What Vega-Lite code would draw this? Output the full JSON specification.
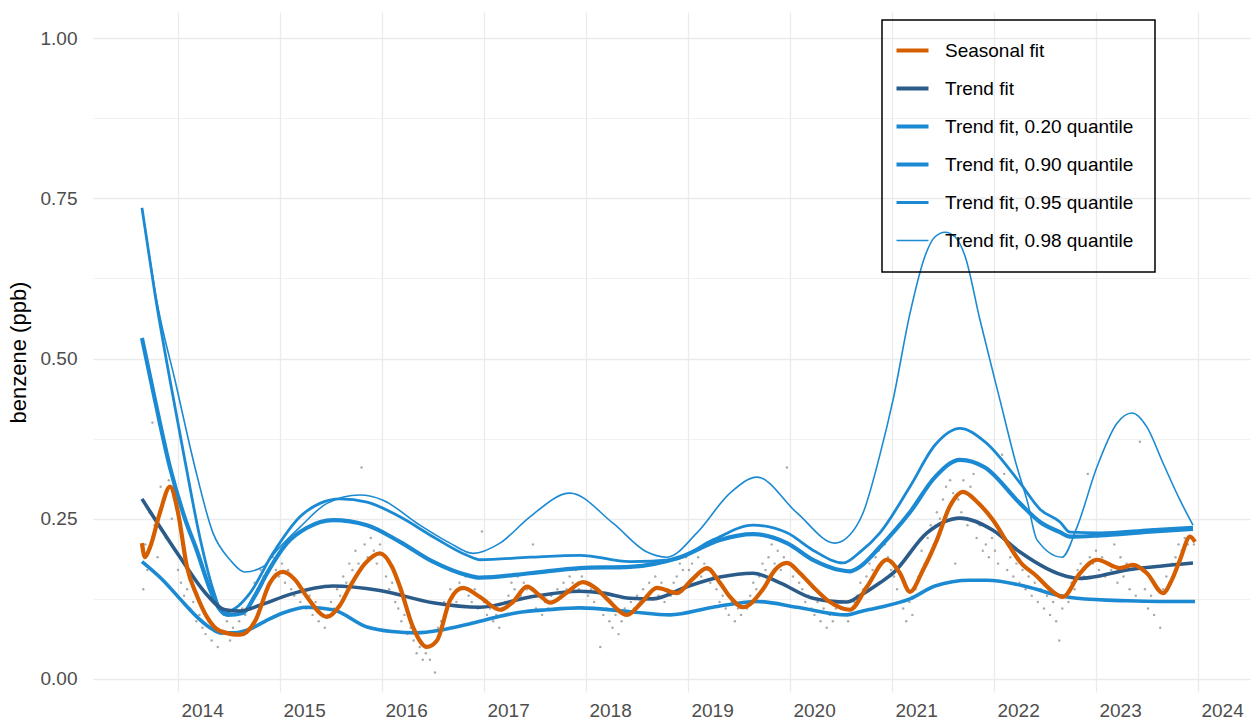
{
"$schema": "https://vega.github.io/schema/vega-lite/v6.json",
"width": 1157, "height": 680,
"autosize": {"type": "none"},
"padding": {"left": 93, "top": 12, "right": 7, "bottom": 35},
"background": "white",
"config": {"view": {"stroke": null}, "font": "Liberation Sans"},
"datasets": {
"pts": [
{"t":2013.66,"v":0.14},{"t":2013.68,"v":0.21},{"t":2013.70,"v":0.17},{"t":2013.72,"v":0.26},{"t":2013.75,"v":0.40},{"t":2013.77,"v":0.24},{"t":2013.80,"v":0.19},{"t":2013.83,"v":0.30},{"t":2013.85,"v":0.27},{"t":2013.88,"v":0.22},{"t":2013.91,"v":0.31},{"t":2013.94,"v":0.25},{"t":2013.97,"v":0.20},
{"t":2014.00,"v":0.17},{"t":2014.03,"v":0.15},{"t":2014.06,"v":0.13},{"t":2014.09,"v":0.14},{"t":2014.12,"v":0.11},{"t":2014.15,"v":0.12},{"t":2014.18,"v":0.09},{"t":2014.21,"v":0.10},{"t":2014.24,"v":0.08},{"t":2014.27,"v":0.07},{"t":2014.30,"v":0.09},{"t":2014.33,"v":0.06},{"t":2014.36,"v":0.08},{"t":2014.39,"v":0.05},{"t":2014.42,"v":0.07},{"t":2014.45,"v":0.10},{"t":2014.48,"v":0.09},{"t":2014.51,"v":0.06},{"t":2014.54,"v":0.08},{"t":2014.57,"v":0.07},{"t":2014.60,"v":0.09},{"t":2014.63,"v":0.11},{"t":2014.66,"v":0.10},{"t":2014.69,"v":0.13},{"t":2014.72,"v":0.12},{"t":2014.75,"v":0.15},{"t":2014.78,"v":0.14},{"t":2014.81,"v":0.17},{"t":2014.84,"v":0.16},{"t":2014.87,"v":0.18},{"t":2014.90,"v":0.15},{"t":2014.93,"v":0.19},{"t":2014.96,"v":0.17},{"t":2014.99,"v":0.16},
{"t":2015.02,"v":0.18},{"t":2015.05,"v":0.15},{"t":2015.08,"v":0.17},{"t":2015.11,"v":0.14},{"t":2015.14,"v":0.13},{"t":2015.17,"v":0.15},{"t":2015.20,"v":0.12},{"t":2015.23,"v":0.14},{"t":2015.26,"v":0.11},{"t":2015.29,"v":0.13},{"t":2015.32,"v":0.10},{"t":2015.35,"v":0.12},{"t":2015.38,"v":0.09},{"t":2015.41,"v":0.11},{"t":2015.44,"v":0.08},{"t":2015.47,"v":0.10},{"t":2015.50,"v":0.12},{"t":2015.53,"v":0.11},{"t":2015.56,"v":0.14},{"t":2015.59,"v":0.13},{"t":2015.62,"v":0.16},{"t":2015.65,"v":0.15},{"t":2015.68,"v":0.18},{"t":2015.71,"v":0.17},{"t":2015.74,"v":0.20},{"t":2015.77,"v":0.18},{"t":2015.80,"v":0.33},{"t":2015.83,"v":0.21},{"t":2015.86,"v":0.19},{"t":2015.89,"v":0.22},{"t":2015.92,"v":0.20},{"t":2015.95,"v":0.18},{"t":2015.98,"v":0.21},
{"t":2016.01,"v":0.23},{"t":2016.04,"v":0.16},{"t":2016.07,"v":0.14},{"t":2016.10,"v":0.15},{"t":2016.13,"v":0.12},{"t":2016.16,"v":0.11},{"t":2016.19,"v":0.09},{"t":2016.22,"v":0.10},{"t":2016.25,"v":0.07},{"t":2016.28,"v":0.08},{"t":2016.31,"v":0.06},{"t":2016.34,"v":0.04},{"t":2016.37,"v":0.05},{"t":2016.40,"v":0.03},{"t":2016.43,"v":0.04},{"t":2016.47,"v":0.03},{"t":2016.52,"v":0.01},{"t":2016.55,"v":0.08},{"t":2016.58,"v":0.09},{"t":2016.61,"v":0.12},{"t":2016.64,"v":0.11},{"t":2016.67,"v":0.14},{"t":2016.70,"v":0.13},{"t":2016.73,"v":0.12},{"t":2016.76,"v":0.15},{"t":2016.79,"v":0.14},{"t":2016.82,"v":0.16},{"t":2016.85,"v":0.13},{"t":2016.88,"v":0.12},{"t":2016.91,"v":0.14},{"t":2016.94,"v":0.11},{"t":2016.98,"v":0.23},
{"t":2017.00,"v":0.12},{"t":2017.03,"v":0.10},{"t":2017.06,"v":0.11},{"t":2017.09,"v":0.09},{"t":2017.12,"v":0.10},{"t":2017.15,"v":0.08},{"t":2017.18,"v":0.11},{"t":2017.21,"v":0.12},{"t":2017.24,"v":0.13},{"t":2017.27,"v":0.15},{"t":2017.30,"v":0.14},{"t":2017.33,"v":0.16},{"t":2017.36,"v":0.13},{"t":2017.39,"v":0.15},{"t":2017.42,"v":0.14},{"t":2017.48,"v":0.21},{"t":2017.51,"v":0.11},{"t":2017.54,"v":0.13},{"t":2017.57,"v":0.10},{"t":2017.60,"v":0.12},{"t":2017.63,"v":0.11},{"t":2017.66,"v":0.13},{"t":2017.69,"v":0.12},{"t":2017.72,"v":0.14},{"t":2017.75,"v":0.13},{"t":2017.78,"v":0.15},{"t":2017.81,"v":0.14},{"t":2017.84,"v":0.16},{"t":2017.87,"v":0.15},{"t":2017.90,"v":0.17},{"t":2017.93,"v":0.14},{"t":2017.96,"v":0.16},{"t":2017.99,"v":0.15},
{"t":2018.02,"v":0.13},{"t":2018.05,"v":0.14},{"t":2018.08,"v":0.12},{"t":2018.11,"v":0.11},{"t":2018.14,"v":0.05},{"t":2018.17,"v":0.10},{"t":2018.20,"v":0.11},{"t":2018.23,"v":0.09},{"t":2018.26,"v":0.08},{"t":2018.29,"v":0.10},{"t":2018.32,"v":0.07},{"t":2018.35,"v":0.09},{"t":2018.38,"v":0.11},{"t":2018.41,"v":0.10},{"t":2018.44,"v":0.12},{"t":2018.47,"v":0.11},{"t":2018.50,"v":0.13},{"t":2018.53,"v":0.12},{"t":2018.56,"v":0.14},{"t":2018.59,"v":0.13},{"t":2018.62,"v":0.15},{"t":2018.65,"v":0.14},{"t":2018.68,"v":0.16},{"t":2018.71,"v":0.13},{"t":2018.74,"v":0.15},{"t":2018.77,"v":0.12},{"t":2018.80,"v":0.14},{"t":2018.83,"v":0.13},{"t":2018.86,"v":0.15},{"t":2018.89,"v":0.16},{"t":2018.92,"v":0.18},{"t":2018.95,"v":0.17},{"t":2018.98,"v":0.19},
{"t":2019.01,"v":0.17},{"t":2019.04,"v":0.18},{"t":2019.07,"v":0.20},{"t":2019.10,"v":0.19},{"t":2019.13,"v":0.16},{"t":2019.16,"v":0.18},{"t":2019.19,"v":0.17},{"t":2019.22,"v":0.15},{"t":2019.25,"v":0.16},{"t":2019.28,"v":0.14},{"t":2019.31,"v":0.12},{"t":2019.34,"v":0.13},{"t":2019.37,"v":0.11},{"t":2019.40,"v":0.10},{"t":2019.43,"v":0.12},{"t":2019.46,"v":0.09},{"t":2019.49,"v":0.11},{"t":2019.52,"v":0.10},{"t":2019.55,"v":0.12},{"t":2019.58,"v":0.11},{"t":2019.61,"v":0.13},{"t":2019.64,"v":0.15},{"t":2019.67,"v":0.14},{"t":2019.70,"v":0.16},{"t":2019.73,"v":0.18},{"t":2019.76,"v":0.17},{"t":2019.79,"v":0.19},{"t":2019.82,"v":0.21},{"t":2019.85,"v":0.18},{"t":2019.88,"v":0.20},{"t":2019.91,"v":0.17},{"t":2019.94,"v":0.19},{"t":2019.97,"v":0.33},
{"t":2020.00,"v":0.18},{"t":2020.03,"v":0.16},{"t":2020.06,"v":0.17},{"t":2020.09,"v":0.15},{"t":2020.12,"v":0.14},{"t":2020.15,"v":0.12},{"t":2020.18,"v":0.13},{"t":2020.21,"v":0.11},{"t":2020.24,"v":0.10},{"t":2020.27,"v":0.12},{"t":2020.30,"v":0.09},{"t":2020.33,"v":0.11},{"t":2020.36,"v":0.08},{"t":2020.39,"v":0.10},{"t":2020.42,"v":0.09},{"t":2020.45,"v":0.11},{"t":2020.48,"v":0.10},{"t":2020.51,"v":0.12},{"t":2020.54,"v":0.11},{"t":2020.57,"v":0.09},{"t":2020.60,"v":0.10},{"t":2020.63,"v":0.12},{"t":2020.66,"v":0.13},{"t":2020.69,"v":0.15},{"t":2020.72,"v":0.14},{"t":2020.75,"v":0.16},{"t":2020.78,"v":0.18},{"t":2020.81,"v":0.17},{"t":2020.84,"v":0.19},{"t":2020.87,"v":0.20},{"t":2020.90,"v":0.18},{"t":2020.93,"v":0.21},{"t":2020.96,"v":0.19},{"t":2020.99,"v":0.17},
{"t":2021.02,"v":0.16},{"t":2021.05,"v":0.14},{"t":2021.08,"v":0.12},{"t":2021.11,"v":0.11},{"t":2021.14,"v":0.09},{"t":2021.17,"v":0.12},{"t":2021.20,"v":0.10},{"t":2021.23,"v":0.14},{"t":2021.26,"v":0.16},{"t":2021.29,"v":0.20},{"t":2021.32,"v":0.18},{"t":2021.35,"v":0.22},{"t":2021.38,"v":0.24},{"t":2021.41,"v":0.21},{"t":2021.44,"v":0.26},{"t":2021.47,"v":0.25},{"t":2021.50,"v":0.28},{"t":2021.53,"v":0.30},{"t":2021.57,"v":0.31},{"t":2021.60,"v":0.29},{"t":2021.62,"v":0.18},{"t":2021.65,"v":0.28},{"t":2021.68,"v":0.26},{"t":2021.70,"v":0.31},{"t":2021.74,"v":0.24},{"t":2021.77,"v":0.30},{"t":2021.80,"v":0.32},{"t":2021.83,"v":0.22},{"t":2021.86,"v":0.24},{"t":2021.89,"v":0.20},{"t":2021.92,"v":0.21},{"t":2021.95,"v":0.19},{"t":2021.98,"v":0.22},
{"t":2022.01,"v":0.20},{"t":2022.04,"v":0.18},{"t":2022.08,"v":0.35},{"t":2022.10,"v":0.32},{"t":2022.13,"v":0.17},{"t":2022.16,"v":0.19},{"t":2022.19,"v":0.16},{"t":2022.22,"v":0.18},{"t":2022.25,"v":0.15},{"t":2022.28,"v":0.17},{"t":2022.31,"v":0.14},{"t":2022.34,"v":0.16},{"t":2022.37,"v":0.13},{"t":2022.40,"v":0.15},{"t":2022.43,"v":0.12},{"t":2022.46,"v":0.14},{"t":2022.49,"v":0.11},{"t":2022.52,"v":0.13},{"t":2022.55,"v":0.10},{"t":2022.58,"v":0.12},{"t":2022.61,"v":0.09},{"t":2022.64,"v":0.06},{"t":2022.67,"v":0.11},{"t":2022.70,"v":0.13},{"t":2022.73,"v":0.12},{"t":2022.76,"v":0.15},{"t":2022.79,"v":0.14},{"t":2022.82,"v":0.17},{"t":2022.85,"v":0.18},{"t":2022.88,"v":0.16},{"t":2022.92,"v":0.32},{"t":2022.94,"v":0.19},{"t":2022.97,"v":0.18},
{"t":2023.00,"v":0.20},{"t":2023.03,"v":0.17},{"t":2023.06,"v":0.19},{"t":2023.09,"v":0.16},{"t":2023.12,"v":0.18},{"t":2023.15,"v":0.17},{"t":2023.18,"v":0.21},{"t":2023.21,"v":0.15},{"t":2023.24,"v":0.19},{"t":2023.27,"v":0.16},{"t":2023.30,"v":0.18},{"t":2023.33,"v":0.14},{"t":2023.36,"v":0.17},{"t":2023.39,"v":0.13},{"t":2023.43,"v":0.37},{"t":2023.45,"v":0.12},{"t":2023.48,"v":0.14},{"t":2023.51,"v":0.11},{"t":2023.54,"v":0.13},{"t":2023.57,"v":0.10},{"t":2023.60,"v":0.12},{"t":2023.63,"v":0.08},{"t":2023.66,"v":0.14},{"t":2023.69,"v":0.16},{"t":2023.72,"v":0.15},{"t":2023.75,"v":0.18},{"t":2023.78,"v":0.19},{"t":2023.81,"v":0.21},{"t":2023.84,"v":0.20},{"t":2023.87,"v":0.22},{"t":2023.90,"v":0.21},{"t":2023.93,"v":0.22},{"t":2023.96,"v":0.21}
],
"fits": [
{"s":"Seasonal fit","t":2013.647,"v":0.212},{"s":"Seasonal fit","t":2013.676,"v":0.190},{"s":"Seasonal fit","t":2013.725,"v":0.205},{"s":"Seasonal fit","t":2013.824,"v":0.26},{"s":"Seasonal fit","t":2013.922,"v":0.300},{"s":"Seasonal fit","t":2014.0,"v":0.26},{"s":"Seasonal fit","t":2014.088,"v":0.175},{"s":"Seasonal fit","t":2014.186,"v":0.13},{"s":"Seasonal fit","t":2014.284,"v":0.097},{"s":"Seasonal fit","t":2014.412,"v":0.075},{"s":"Seasonal fit","t":2014.608,"v":0.069},{"s":"Seasonal fit","t":2014.755,"v":0.09},{"s":"Seasonal fit","t":2014.902,"v":0.150},{"s":"Seasonal fit","t":2015.029,"v":0.167},{"s":"Seasonal fit","t":2015.147,"v":0.155},{"s":"Seasonal fit","t":2015.265,"v":0.128},{"s":"Seasonal fit","t":2015.461,"v":0.097},{"s":"Seasonal fit","t":2015.588,"v":0.115},{"s":"Seasonal fit","t":2015.686,"v":0.144},{"s":"Seasonal fit","t":2015.833,"v":0.18},{"s":"Seasonal fit","t":2015.980,"v":0.196},{"s":"Seasonal fit","t":2016.098,"v":0.175},{"s":"Seasonal fit","t":2016.176,"v":0.144},{"s":"Seasonal fit","t":2016.304,"v":0.081},{"s":"Seasonal fit","t":2016.441,"v":0.050},{"s":"Seasonal fit","t":2016.539,"v":0.060},{"s":"Seasonal fit","t":2016.667,"v":0.123},{"s":"Seasonal fit","t":2016.794,"v":0.142},{"s":"Seasonal fit","t":2016.961,"v":0.128},{"s":"Seasonal fit","t":2017.157,"v":0.108},{"s":"Seasonal fit","t":2017.284,"v":0.12},{"s":"Seasonal fit","t":2017.422,"v":0.144},{"s":"Seasonal fit","t":2017.549,"v":0.13},{"s":"Seasonal fit","t":2017.647,"v":0.119},{"s":"Seasonal fit","t":2017.814,"v":0.135},{"s":"Seasonal fit","t":2017.971,"v":0.151},{"s":"Seasonal fit","t":2018.108,"v":0.14},{"s":"Seasonal fit","t":2018.206,"v":0.125},{"s":"Seasonal fit","t":2018.402,"v":0.100},{"s":"Seasonal fit","t":2018.549,"v":0.12},{"s":"Seasonal fit","t":2018.696,"v":0.142},{"s":"Seasonal fit","t":2018.892,"v":0.134},{"s":"Seasonal fit","t":2019.039,"v":0.155},{"s":"Seasonal fit","t":2019.186,"v":0.173},{"s":"Seasonal fit","t":2019.314,"v":0.15},{"s":"Seasonal fit","t":2019.412,"v":0.128},{"s":"Seasonal fit","t":2019.539,"v":0.112},{"s":"Seasonal fit","t":2019.735,"v":0.14},{"s":"Seasonal fit","t":2019.853,"v":0.17},{"s":"Seasonal fit","t":2019.971,"v":0.181},{"s":"Seasonal fit","t":2020.098,"v":0.165},{"s":"Seasonal fit","t":2020.225,"v":0.144},{"s":"Seasonal fit","t":2020.392,"v":0.12},{"s":"Seasonal fit","t":2020.588,"v":0.108},{"s":"Seasonal fit","t":2020.755,"v":0.144},{"s":"Seasonal fit","t":2020.951,"v":0.186},{"s":"Seasonal fit","t":2021.078,"v":0.165},{"s":"Seasonal fit","t":2021.176,"v":0.136},{"s":"Seasonal fit","t":2021.304,"v":0.17},{"s":"Seasonal fit","t":2021.441,"v":0.217},{"s":"Seasonal fit","t":2021.569,"v":0.27},{"s":"Seasonal fit","t":2021.696,"v":0.292},{"s":"Seasonal fit","t":2021.843,"v":0.275},{"s":"Seasonal fit","t":2021.990,"v":0.248},{"s":"Seasonal fit","t":2022.157,"v":0.206},{"s":"Seasonal fit","t":2022.255,"v":0.183},{"s":"Seasonal fit","t":2022.422,"v":0.160},{"s":"Seasonal fit","t":2022.549,"v":0.14},{"s":"Seasonal fit","t":2022.676,"v":0.128},{"s":"Seasonal fit","t":2022.843,"v":0.165},{"s":"Seasonal fit","t":2023.010,"v":0.186},{"s":"Seasonal fit","t":2023.235,"v":0.173},{"s":"Seasonal fit","t":2023.363,"v":0.178},{"s":"Seasonal fit","t":2023.500,"v":0.165},{"s":"Seasonal fit","t":2023.657,"v":0.134},{"s":"Seasonal fit","t":2023.745,"v":0.155},{"s":"Seasonal fit","t":2023.824,"v":0.186},{"s":"Seasonal fit","t":2023.922,"v":0.222},{"s":"Seasonal fit","t":2023.971,"v":0.214},
{"s":"Trend fit","t":2013.647,"v":0.281},{"s":"Trend fit","t":2014.020,"v":0.19},{"s":"Trend fit","t":2014.265,"v":0.135},{"s":"Trend fit","t":2014.461,"v":0.108},{"s":"Trend fit","t":2014.608,"v":0.106},{"s":"Trend fit","t":2014.804,"v":0.115},{"s":"Trend fit","t":2015.098,"v":0.132},{"s":"Trend fit","t":2015.520,"v":0.145},{"s":"Trend fit","t":2015.980,"v":0.138},{"s":"Trend fit","t":2016.500,"v":0.119},{"s":"Trend fit","t":2016.961,"v":0.112},{"s":"Trend fit","t":2017.451,"v":0.128},{"s":"Trend fit","t":2017.941,"v":0.137},{"s":"Trend fit","t":2018.167,"v":0.134},{"s":"Trend fit","t":2018.431,"v":0.126},{"s":"Trend fit","t":2018.657,"v":0.125},{"s":"Trend fit","t":2018.990,"v":0.144},{"s":"Trend fit","t":2019.314,"v":0.159},{"s":"Trend fit","t":2019.637,"v":0.165},{"s":"Trend fit","t":2019.902,"v":0.150},{"s":"Trend fit","t":2020.225,"v":0.126},{"s":"Trend fit","t":2020.559,"v":0.120},{"s":"Trend fit","t":2020.686,"v":0.130},{"s":"Trend fit","t":2020.882,"v":0.150},{"s":"Trend fit","t":2021.010,"v":0.165},{"s":"Trend fit","t":2021.343,"v":0.228},{"s":"Trend fit","t":2021.667,"v":0.251},{"s":"Trend fit","t":2021.990,"v":0.232},{"s":"Trend fit","t":2022.255,"v":0.198},{"s":"Trend fit","t":2022.716,"v":0.160},{"s":"Trend fit","t":2022.843,"v":0.157},{"s":"Trend fit","t":2022.971,"v":0.159},{"s":"Trend fit","t":2023.304,"v":0.170},{"s":"Trend fit","t":2023.627,"v":0.176},{"s":"Trend fit","t":2023.951,"v":0.181},
{"s":"Trend fit, 0.20 quantile","t":2013.647,"v":0.183},{"s":"Trend fit, 0.20 quantile","t":2013.853,"v":0.154},{"s":"Trend fit, 0.20 quantile","t":2014.020,"v":0.125},{"s":"Trend fit, 0.20 quantile","t":2014.186,"v":0.097},{"s":"Trend fit, 0.20 quantile","t":2014.314,"v":0.080},{"s":"Trend fit, 0.20 quantile","t":2014.412,"v":0.072},{"s":"Trend fit, 0.20 quantile","t":2014.559,"v":0.072},{"s":"Trend fit, 0.20 quantile","t":2014.706,"v":0.078},{"s":"Trend fit, 0.20 quantile","t":2014.853,"v":0.09},{"s":"Trend fit, 0.20 quantile","t":2015.029,"v":0.103},{"s":"Trend fit, 0.20 quantile","t":2015.265,"v":0.112},{"s":"Trend fit, 0.20 quantile","t":2015.520,"v":0.108},{"s":"Trend fit, 0.20 quantile","t":2015.853,"v":0.081},{"s":"Trend fit, 0.20 quantile","t":2016.098,"v":0.074},{"s":"Trend fit, 0.20 quantile","t":2016.343,"v":0.072},{"s":"Trend fit, 0.20 quantile","t":2016.569,"v":0.076},{"s":"Trend fit, 0.20 quantile","t":2016.833,"v":0.085},{"s":"Trend fit, 0.20 quantile","t":2016.961,"v":0.09},{"s":"Trend fit, 0.20 quantile","t":2017.157,"v":0.098},{"s":"Trend fit, 0.20 quantile","t":2017.353,"v":0.104},{"s":"Trend fit, 0.20 quantile","t":2017.618,"v":0.108},{"s":"Trend fit, 0.20 quantile","t":2017.941,"v":0.111},{"s":"Trend fit, 0.20 quantile","t":2018.431,"v":0.105},{"s":"Trend fit, 0.20 quantile","t":2018.824,"v":0.100},{"s":"Trend fit, 0.20 quantile","t":2019.245,"v":0.112},{"s":"Trend fit, 0.20 quantile","t":2019.676,"v":0.121},{"s":"Trend fit, 0.20 quantile","t":2020.069,"v":0.112},{"s":"Trend fit, 0.20 quantile","t":2020.559,"v":0.100},{"s":"Trend fit, 0.20 quantile","t":2020.686,"v":0.105},{"s":"Trend fit, 0.20 quantile","t":2020.882,"v":0.112},{"s":"Trend fit, 0.20 quantile","t":2021.176,"v":0.125},{"s":"Trend fit, 0.20 quantile","t":2021.422,"v":0.145},{"s":"Trend fit, 0.20 quantile","t":2021.765,"v":0.154},{"s":"Trend fit, 0.20 quantile","t":2021.931,"v":0.154},{"s":"Trend fit, 0.20 quantile","t":2022.324,"v":0.144},{"s":"Trend fit, 0.20 quantile","t":2022.647,"v":0.130},{"s":"Trend fit, 0.20 quantile","t":2022.814,"v":0.126},{"s":"Trend fit, 0.20 quantile","t":2023.304,"v":0.122},{"s":"Trend fit, 0.20 quantile","t":2023.627,"v":0.121},{"s":"Trend fit, 0.20 quantile","t":2023.971,"v":0.121},
{"s":"Trend fit, 0.90 quantile","t":2013.647,"v":0.532},{"s":"Trend fit, 0.90 quantile","t":2013.775,"v":0.435},{"s":"Trend fit, 0.90 quantile","t":2013.922,"v":0.33},{"s":"Trend fit, 0.90 quantile","t":2014.069,"v":0.25},{"s":"Trend fit, 0.90 quantile","t":2014.186,"v":0.20},{"s":"Trend fit, 0.90 quantile","t":2014.314,"v":0.14},{"s":"Trend fit, 0.90 quantile","t":2014.412,"v":0.108},{"s":"Trend fit, 0.90 quantile","t":2014.490,"v":0.100},{"s":"Trend fit, 0.90 quantile","t":2014.637,"v":0.103},{"s":"Trend fit, 0.90 quantile","t":2014.755,"v":0.13},{"s":"Trend fit, 0.90 quantile","t":2014.873,"v":0.165},{"s":"Trend fit, 0.90 quantile","t":2015.069,"v":0.212},{"s":"Trend fit, 0.90 quantile","t":2015.265,"v":0.236},{"s":"Trend fit, 0.90 quantile","t":2015.520,"v":0.248},{"s":"Trend fit, 0.90 quantile","t":2015.853,"v":0.240},{"s":"Trend fit, 0.90 quantile","t":2016.176,"v":0.214},{"s":"Trend fit, 0.90 quantile","t":2016.500,"v":0.183},{"s":"Trend fit, 0.90 quantile","t":2016.833,"v":0.162},{"s":"Trend fit, 0.90 quantile","t":2016.961,"v":0.158},{"s":"Trend fit, 0.90 quantile","t":2017.451,"v":0.165},{"s":"Trend fit, 0.90 quantile","t":2017.941,"v":0.173},{"s":"Trend fit, 0.90 quantile","t":2018.431,"v":0.175},{"s":"Trend fit, 0.90 quantile","t":2018.922,"v":0.190},{"s":"Trend fit, 0.90 quantile","t":2019.314,"v":0.217},{"s":"Trend fit, 0.90 quantile","t":2019.637,"v":0.226},{"s":"Trend fit, 0.90 quantile","t":2019.971,"v":0.212},{"s":"Trend fit, 0.90 quantile","t":2020.225,"v":0.186},{"s":"Trend fit, 0.90 quantile","t":2020.490,"v":0.170},{"s":"Trend fit, 0.90 quantile","t":2020.588,"v":0.168},{"s":"Trend fit, 0.90 quantile","t":2020.686,"v":0.175},{"s":"Trend fit, 0.90 quantile","t":2020.882,"v":0.206},{"s":"Trend fit, 0.90 quantile","t":2021.176,"v":0.26},{"s":"Trend fit, 0.90 quantile","t":2021.422,"v":0.315},{"s":"Trend fit, 0.90 quantile","t":2021.667,"v":0.342},{"s":"Trend fit, 0.90 quantile","t":2021.912,"v":0.33},{"s":"Trend fit, 0.90 quantile","t":2022.255,"v":0.274},{"s":"Trend fit, 0.90 quantile","t":2022.451,"v":0.245},{"s":"Trend fit, 0.90 quantile","t":2022.647,"v":0.229},{"s":"Trend fit, 0.90 quantile","t":2022.745,"v":0.222},{"s":"Trend fit, 0.90 quantile","t":2023.039,"v":0.224},{"s":"Trend fit, 0.90 quantile","t":2023.529,"v":0.230},{"s":"Trend fit, 0.90 quantile","t":2023.951,"v":0.234},
{"s":"Trend fit, 0.95 quantile","t":2013.647,"v":0.735},{"s":"Trend fit, 0.95 quantile","t":2013.775,"v":0.60},{"s":"Trend fit, 0.95 quantile","t":2013.922,"v":0.466},{"s":"Trend fit, 0.95 quantile","t":2014.069,"v":0.34},{"s":"Trend fit, 0.95 quantile","t":2014.216,"v":0.22},{"s":"Trend fit, 0.95 quantile","t":2014.343,"v":0.14},{"s":"Trend fit, 0.95 quantile","t":2014.441,"v":0.103},{"s":"Trend fit, 0.95 quantile","t":2014.559,"v":0.11},{"s":"Trend fit, 0.95 quantile","t":2014.706,"v":0.134},{"s":"Trend fit, 0.95 quantile","t":2014.931,"v":0.196},{"s":"Trend fit, 0.95 quantile","t":2015.196,"v":0.253},{"s":"Trend fit, 0.95 quantile","t":2015.392,"v":0.274},{"s":"Trend fit, 0.95 quantile","t":2015.588,"v":0.281},{"s":"Trend fit, 0.95 quantile","t":2015.853,"v":0.276},{"s":"Trend fit, 0.95 quantile","t":2016.176,"v":0.253},{"s":"Trend fit, 0.95 quantile","t":2016.500,"v":0.222},{"s":"Trend fit, 0.95 quantile","t":2016.833,"v":0.193},{"s":"Trend fit, 0.95 quantile","t":2016.961,"v":0.186},{"s":"Trend fit, 0.95 quantile","t":2017.451,"v":0.190},{"s":"Trend fit, 0.95 quantile","t":2017.941,"v":0.193},{"s":"Trend fit, 0.95 quantile","t":2018.431,"v":0.183},{"s":"Trend fit, 0.95 quantile","t":2018.853,"v":0.186},{"s":"Trend fit, 0.95 quantile","t":2019.245,"v":0.217},{"s":"Trend fit, 0.95 quantile","t":2019.637,"v":0.240},{"s":"Trend fit, 0.95 quantile","t":2019.971,"v":0.228},{"s":"Trend fit, 0.95 quantile","t":2020.225,"v":0.201},{"s":"Trend fit, 0.95 quantile","t":2020.520,"v":0.181},{"s":"Trend fit, 0.95 quantile","t":2020.686,"v":0.198},{"s":"Trend fit, 0.95 quantile","t":2020.882,"v":0.228},{"s":"Trend fit, 0.95 quantile","t":2021.176,"v":0.30},{"s":"Trend fit, 0.95 quantile","t":2021.422,"v":0.365},{"s":"Trend fit, 0.95 quantile","t":2021.667,"v":0.391},{"s":"Trend fit, 0.95 quantile","t":2021.912,"v":0.37},{"s":"Trend fit, 0.95 quantile","t":2022.255,"v":0.306},{"s":"Trend fit, 0.95 quantile","t":2022.451,"v":0.265},{"s":"Trend fit, 0.95 quantile","t":2022.647,"v":0.245},{"s":"Trend fit, 0.95 quantile","t":2022.745,"v":0.229},{"s":"Trend fit, 0.95 quantile","t":2023.039,"v":0.228},{"s":"Trend fit, 0.95 quantile","t":2023.529,"v":0.233},{"s":"Trend fit, 0.95 quantile","t":2023.951,"v":0.237},
{"s":"Trend fit, 0.98 quantile","t":2013.647,"v":0.735},{"s":"Trend fit, 0.98 quantile","t":2013.804,"v":0.58},{"s":"Trend fit, 0.98 quantile","t":2013.971,"v":0.466},{"s":"Trend fit, 0.98 quantile","t":2014.167,"v":0.33},{"s":"Trend fit, 0.98 quantile","t":2014.343,"v":0.228},{"s":"Trend fit, 0.98 quantile","t":2014.510,"v":0.186},{"s":"Trend fit, 0.98 quantile","t":2014.657,"v":0.167},{"s":"Trend fit, 0.98 quantile","t":2014.833,"v":0.175},{"s":"Trend fit, 0.98 quantile","t":2014.971,"v":0.201},{"s":"Trend fit, 0.98 quantile","t":2015.196,"v":0.237},{"s":"Trend fit, 0.98 quantile","t":2015.461,"v":0.274},{"s":"Trend fit, 0.98 quantile","t":2015.784,"v":0.287},{"s":"Trend fit, 0.98 quantile","t":2016.010,"v":0.279},{"s":"Trend fit, 0.98 quantile","t":2016.343,"v":0.243},{"s":"Trend fit, 0.98 quantile","t":2016.667,"v":0.212},{"s":"Trend fit, 0.98 quantile","t":2016.892,"v":0.196},{"s":"Trend fit, 0.98 quantile","t":2017.157,"v":0.212},{"s":"Trend fit, 0.98 quantile","t":2017.451,"v":0.253},{"s":"Trend fit, 0.98 quantile","t":2017.843,"v":0.290},{"s":"Trend fit, 0.98 quantile","t":2018.265,"v":0.243},{"s":"Trend fit, 0.98 quantile","t":2018.598,"v":0.198},{"s":"Trend fit, 0.98 quantile","t":2018.794,"v":0.190},{"s":"Trend fit, 0.98 quantile","t":2019.088,"v":0.228},{"s":"Trend fit, 0.98 quantile","t":2019.412,"v":0.29},{"s":"Trend fit, 0.98 quantile","t":2019.676,"v":0.315},{"s":"Trend fit, 0.98 quantile","t":2020.069,"v":0.259},{"s":"Trend fit, 0.98 quantile","t":2020.441,"v":0.212},{"s":"Trend fit, 0.98 quantile","t":2020.588,"v":0.225},{"s":"Trend fit, 0.98 quantile","t":2020.716,"v":0.259},{"s":"Trend fit, 0.98 quantile","t":2020.882,"v":0.35},{"s":"Trend fit, 0.98 quantile","t":2021.010,"v":0.435},{"s":"Trend fit, 0.98 quantile","t":2021.176,"v":0.57},{"s":"Trend fit, 0.98 quantile","t":2021.324,"v":0.66},{"s":"Trend fit, 0.98 quantile","t":2021.422,"v":0.69},{"s":"Trend fit, 0.98 quantile","t":2021.520,"v":0.697},{"s":"Trend fit, 0.98 quantile","t":2021.618,"v":0.69},{"s":"Trend fit, 0.98 quantile","t":2021.716,"v":0.66},{"s":"Trend fit, 0.98 quantile","t":2021.863,"v":0.56},{"s":"Trend fit, 0.98 quantile","t":2022.059,"v":0.435},{"s":"Trend fit, 0.98 quantile","t":2022.225,"v":0.331},{"s":"Trend fit, 0.98 quantile","t":2022.324,"v":0.279},{"s":"Trend fit, 0.98 quantile","t":2022.422,"v":0.217},{"s":"Trend fit, 0.98 quantile","t":2022.667,"v":0.190},{"s":"Trend fit, 0.98 quantile","t":2022.814,"v":0.237},{"s":"Trend fit, 0.98 quantile","t":2023.010,"v":0.331},{"s":"Trend fit, 0.98 quantile","t":2023.206,"v":0.399},{"s":"Trend fit, 0.98 quantile","t":2023.353,"v":0.415},{"s":"Trend fit, 0.98 quantile","t":2023.500,"v":0.393},{"s":"Trend fit, 0.98 quantile","t":2023.657,"v":0.337},{"s":"Trend fit, 0.98 quantile","t":2023.824,"v":0.279},{"s":"Trend fit, 0.98 quantile","t":2023.951,"v":0.240}
]
},
"encoding": {
  "x": {"field": "t", "type": "quantitative",
        "scale": {"domain": [2013.167, 2024.51], "nice": false, "zero": false},
        "axis": {"title": null, "values": [2014,2015,2016,2017,2018,2019,2020,2021,2022,2023,2024], "format": "d",
                 "grid": true, "gridColor": "#ebebeb", "gridWidth": 1.3, "domain": false, "ticks": false,
                 "labelFontSize": 19, "labelColor": "#4d4d4d", "labelPadding": 9, "labelAlign": "left", "labelOffset": 3,
                 "labelOverlap": false, "labelFlush": false, "labelBound": false}},
  "y": {"field": "v", "type": "quantitative",
        "scale": {"domain": [-0.0203, 1.0406], "nice": false, "zero": false},
        "axis": {"title": "benzene (ppb)", "values": [0,0.125,0.25,0.375,0.5,0.625,0.75,0.875,1],
                 "labelExpr": "(datum.value*4)%1==0 ? format(datum.value,'.2f') : ''",
                 "grid": true, "gridColor": "#ebebeb",
                 "gridWidth": {"condition": {"test": "(datum.value*4)%1!=0", "value": 0.7}, "value": 1.3},
                 "domain": false, "ticks": false, "labelFontSize": 19, "labelColor": "#4d4d4d", "labelPadding": 16,
                 "titleFontSize": 22, "titleFontWeight": "normal", "titleColor": "black", "titlePadding": 10}}
},
"layer": [
  {"data": {"name": "pts"}, "mark": {"type": "circle", "size": 6, "color": "#9a9a9a", "opacity": 0.85}},
  {"data": {"name": "fits"},
   "encoding": {
     "stroke": {"field": "s", "type": "nominal",
        "scale": {"domain": ["Seasonal fit","Trend fit","Trend fit, 0.20 quantile","Trend fit, 0.90 quantile","Trend fit, 0.95 quantile","Trend fit, 0.98 quantile"],
                  "range": ["#D55E00","#2B5B89","#1B8AD3","#1B8AD3","#1B8AD3","#1B8AD3"]},
        "legend": {"title": null, "orient": "none", "legendX": 789, "legendY": 8, "symbolType": "stroke", "symbolSize": 1024,
                   "symbolStrokeWidth": 4,
                   "labelFontSize": 19, "labelColor": "black", "labelOffset": 23, "rowPadding": 18, "padding": 21,
                   "strokeColor": "black", "fillColor": null, "labelLimit": 400,
                   "encode": {
                     "symbols": {"update": {"strokeWidth": {"signal": "datum.value == 'Trend fit, 0.98 quantile' ? 1.6 : datum.value == 'Trend fit, 0.95 quantile' ? 2.8 : 4"}}},
                     "legend": {"update": {"strokeWidth": {"value": 1.5}}}
                   }}}
   },
   "layer": [
     {"transform": [{"filter": "datum.s == 'Trend fit, 0.98 quantile'"}], "mark": {"type": "line", "interpolate": "monotone", "strokeWidth": 1.6}},
     {"transform": [{"filter": "datum.s == 'Trend fit, 0.95 quantile'"}], "mark": {"type": "line", "interpolate": "monotone", "strokeWidth": 2.8}},
     {"transform": [{"filter": "datum.s == 'Trend fit, 0.90 quantile'"}], "mark": {"type": "line", "interpolate": "monotone", "strokeWidth": 4.2}},
     {"transform": [{"filter": "datum.s == 'Trend fit, 0.20 quantile'"}], "mark": {"type": "line", "interpolate": "monotone", "strokeWidth": 3.6}},
     {"transform": [{"filter": "datum.s == 'Trend fit'"}], "mark": {"type": "line", "interpolate": "monotone", "strokeWidth": 3.6}},
     {"transform": [{"filter": "datum.s == 'Seasonal fit'"}], "mark": {"type": "line", "interpolate": "monotone", "strokeWidth": 4.2}}
   ]}
]
}
